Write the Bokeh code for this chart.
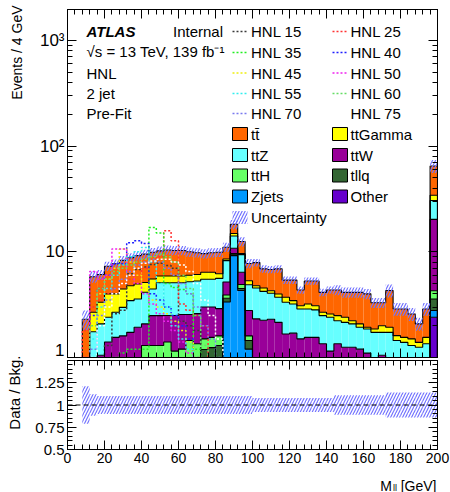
import numpy as np
from bokeh.plotting import figure
from bokeh.layouts import column, row
from bokeh.models import Range1d, LinearAxis, LogAxis, FixedTicker, Label, Span
from bokeh.embed import file_html
from bokeh.resources import INLINE

# ---------------- data ----------------
bin_edges = list(range(8, 204, 4))          # 8 ... 200 GeV, 48 bins of 4 GeV

other = [.02, .02, .03, .03, .03, .03, .03, .03, .03, .03, .03, .03, .03, .03, .03, .03, .04, .04, .05, .05, .10, .05, .05,
         .03, .03, .03, .03, .03, .03, .03, .03, .03, .03, .03, .03, .03, .03, .03, .03, .03, .03, .03, .03, .03, .03, .03, .03,
         2.4]
zjets = [.08, .10, .12, .15, .15, .17, .17, .17, .18, .18, .20, .20, .20, .25, .25, .30, .35, .40, .85, 3.3, 9.1, 4.25, 1.15,
         .35, .33, .30, .28, .27, .25, .23, .22, .21, .20, .19, .18, .17, .16, .15, .15, .15, .14, .13, .12, .12, .12, .11, .11,
         .38]
tllq = [.05, .08, .10, .12, .12, .15, .15, .15, .20, .20, .25, .25, .30, .30, .35, .50, .80, .80, .40, .28, .30, .20, .25,
        .20, .20, .20, .20, .19, .19, .18, .18, .17, .17, .16, .16, .15, .15, .14, .14, .13, .13, .12, .12, .11, .11, .11, .10,
        .80]
tth = [.15, .20, .30, .40, .50, .55, .60, .65, .89, .89, .82, .92, .62, .62, .82, .52, .31, .31, .30, .27, .10, .40, .15,
       .20, .19, .19, .19, .19, .18, .18, .17, .17, .16, .16, .15, .15, .14, .14, .13, .13, .12, .12, .11, .11, .10, .10, .10,
       .70]
ttw = [.20, .40, .50, .70, .75, .70, .78, .93, .78, 1.19, 1.19, 1.10, 1.35, 1.35, 1.10, 1.25, 1.50, 1.45, 1.30, 1.28, 1.20, 1.50, 1.18,
       1.54, 1.50, 1.58, 1.45, .99, 1.05, .88, .95, .97, .79, .61, .83, .75, .77, .74, .65, .51, .63, .50, .47, .43, .39, .35, .36,
       16.0]
ttz = [.40, .95, 1.03, 1.00, 1.13, 1.38, 1.72, 1.65, 2.06, 1.95, 2.61, 2.60, 2.60, 2.55, 2.65, 2.70, 2.50, 2.50, 2.70, 3.07, 3.30, 3.00, 2.10,
       2.22, 1.97, 1.75, 1.56, 1.66, 1.51, 1.38, 1.33, 1.27, 1.14, 1.25, .88, .90, .83, .73, .76, .78, .68, .83, .60, .59, .55, .55, .65,
       10.3]
ttgamma = [.10, .93, 1.25, 1.60, 1.32, 1.46, 1.32, 1.38, .99, 1.09, .80, .80, .80, .80, .80, .80, .90, .90, .60, .30, .80, .20, .45,
           .23, .32, .23, .28, .38, .24, .21, .33, .27, .19, .18, .26, .25, .15, .15, .07, .13, .27, .20, .16, .16, .20, .14, .20,
           3.7]
ttbar = [1.30, 3.12, 2.77, 3.30, 3.70, 3.86, 4.03, 4.24, 4.37, 4.37, 4.30, 4.50, 4.40, 4.40, 4.00, 3.70, 3.20, 3.40, 3.70, 2.50, 3.30, 2.90, 2.42,
         3.13, 2.36, 2.52, 2.91, 1.69, 1.95, 1.26, 2.09, 2.21, 1.45, 1.77, 1.86, 1.73, 1.90, 2.05, 2.07, 1.44, 1.30, 2.37, 1.27, 1.33, 1.08, .69, 1.33,
         30.5]
rel_unc = [.21, .12, .10, .10, .10, .10, .10, .10, .10, .10, .10, .10, .10, .10, .10, .10, .10, .10, .10, .10, .10, .10, .10,
           .08, .08, .08, .08, .08, .08, .08, .08, .08, .08, .08, .11, .11, .11, .11, .11, .11, .11,
           .14, .14, .14, .14, .14, .14, .14]

sig_edges = list(range(8, 104, 4))          # 8 ... 100 GeV
hnl15 = [0.4, 0.7, 1.0, 1.3, 2.6, 2.8, 6.2, 6.8, 7.2, 7.6, 7.8, 7.4, 7.0, 2.2, 2.0, 1.8, 0.8, 0.5, 0.3, 0.2, 0.1, 0.1, 0.1]
hnl25 = [1.8, 3.0, 3.5, 4.0, 4.5, 5.0, 5.5, 6.0, 7.0, 8.0, 9.0, 15.8, 12.7, 3.2, 2.8, 2.5, 2.0, 0.6, 0.3, 0.2, 0.1, 0.1, 0.1]
hnl35 = [0.4, 0.6, 0.8, 0.9, 1.0, 1.1, 1.2, 1.2, 1.2, 17.0, 15.1, 5.0, 4.6, 4.4, 4.0, 1.2, 0.6, 0.4, 0.2, 0.1, 0.1, 0.1, 0.1]
hnl40 = [0.8, 2.5, 4.5, 6.0, 7.7, 7.7, 12.2, 12.7, 12.0, 4.0, 3.5, 3.0, 2.5, 2.0, 1.5, 1.0, 0.5, 0.3, 0.2, 0.1, 0.1, 0.1, 0.1]
hnl45 = [0.6, 2.0, 4.0, 5.5, 7.0, 10.6, 8.0, 6.0, 4.5, 3.5, 3.0, 2.6, 2.2, 1.8, 1.4, 1.0, 0.6, 0.3, 0.2, 0.1, 0.1, 0.1, 0.1]
hnl50 = [1.0, 6.5, 5.5, 6.0, 10.6, 10.6, 6.5, 5.0, 4.0, 3.2, 2.6, 2.2, 1.8, 1.4, 1.1, 0.7, 0.4, 0.2, 0.1, 0.1, 0.1, 0.1, 0.1]
hnl55 = [0.5, 1.5, 3.0, 4.5, 6.0, 7.5, 9.0, 10.0, 11.0, 8.0, 5.0, 3.0, 2.0, 1.5, 1.2, 0.8, 0.4, 0.2, 0.1, 0.1, 0.1, 0.1, 0.1]
hnl60 = [0.5, 2.0, 4.5, 5.5, 6.5, 7.0, 7.5, 8.0, 8.5, 9.0, 9.5, 9.0, 8.0, 6.0, 4.5, 2.5, 1.3, 0.5, 0.2, 0.1, 0.1, 0.1, 0.1]
hnl70 = [0.4, 1.2, 2.5, 3.5, 4.5, 5.5, 6.5, 7.5, 8.0, 8.5, 8.0, 7.0, 6.0, 5.0, 4.0, 3.0, 2.0, 1.5, 1.0, 0.5, 0.2, 0.1, 0.1]
hnl75 = [0.4, 1.0, 2.0, 3.0, 4.0, 5.0, 6.0, 7.0, 7.8, 8.2, 8.5, 8.5, 8.0, 7.5, 6.5, 5.0, 3.5, 2.5, 1.5, 0.8, 0.4, 0.2, 0.1]

x_ticks = list(range(0, 201, 20))
x_minor = list(range(0, 201, 4))
y_ticks = [1, 10, 100, 1000]
y_tick_labels = {1: "1", 10: "10", 100: "10²", 1000: "10³"}
r_ticks = [0.5, 0.75, 1.0, 1.25, 1.5]
r_tick_labels = {0.5: "0.5", 0.75: "0.75", 1.0: "1", 1.25: "1.25", 1.5: " "}

# ---------------- style / layout (page pixels) ----------------
FONT = "Liberation Sans"
STRIP_W = 30                      # left strip holding the y titles
COL_W = 450 - STRIP_W
FX0, FX1 = 67, 437                # frame left / right
F1_TOP, F1_BOT = 9, 357           # main frame
F2_TOP, F2_BOT = 360, 449         # ratio frame
P1_H = 359
P2_H = 111
TOP_H = P1_H + P2_H
BOT_H = 492 - TOP_H
LB = FX0 - STRIP_W
RB = 450 - FX1
Y1_MAX = 1960.0
FLOOR = 1e-2

stack = [
    ("Other", other, "#6600cc"),
    ("Zjets", zjets, "#0099ff"),
    ("tllq", tllq, "#336633"),
    ("ttH", tth, "#66ff66"),
    ("ttW", ttw, "#990099"),
    ("ttZ", ttz, "#66ffff"),
    ("ttGamma", ttgamma, "#ffff00"),
    ("tt\u0304", ttbar, "#ff6600"),
]
signals = [
    ("HNL 15", hnl15, "#3a3a3a"), ("HNL 25", hnl25, "#ff3333"),
    ("HNL 35", hnl35, "#22ee22"), ("HNL 40", hnl40, "#1f1fff"),
    ("HNL 45", hnl45, "#eeee11"), ("HNL 50", hnl50, "#ee22ee"),
    ("HNL 55", hnl55, "#33eeee"), ("HNL 60", hnl60, "#66dd66"),
    ("HNL 70", hnl70, "#7a7aee"), ("HNL 75", hnl75, "#ffffff"),
]
HATCH = "#7272ff"


def gx(px):
    return (px - FX0) * 200.0 / (FX1 - FX0)


def gy(py):
    return 10 ** ((F1_BOT - py) / (F1_BOT - F1_TOP) * np.log10(Y1_MAX))


def style_axis(ax, ticker, show_labels, overrides=None, size="14px", standoff=3):
    ax.ticker = ticker
    ax.major_tick_in = 9
    ax.major_tick_out = 0
    ax.minor_tick_in = 5
    ax.minor_tick_out = 0
    ax.axis_line_color = "black"
    ax.major_tick_line_color = "black"
    ax.minor_tick_line_color = "black"
    ax.major_label_text_font = FONT
    ax.major_label_text_color = "black"
    if show_labels:
        ax.major_label_text_font_size = size
        ax.major_label_standoff = standoff
        if overrides:
            ax.major_label_overrides = overrides
    else:
        ax.major_label_text_font_size = "1px"
        ax.major_label_text_alpha = 0
        ax.major_label_standoff = 0


def step_xy(edges, vals):
    xs = [edges[0]] + list(edges[:-1]) + [edges[-1]]
    ys = [FLOOR] + list(vals) + [FLOOR]
    return xs, ys


def add_label(fig, x, y, text, size="15px", align="left", style="normal", angle=0.0, baseline="middle", color="black"):
    fig.add_layout(Label(x=x, y=y, text=text, text_font=FONT, text_font_size=size, text_align=align,
                         text_baseline=baseline, text_font_style=style, angle=angle, text_color=color))


def plain_fig(w, h, x0, x1, y0, y1):
    f = figure(width=w, height=h, x_range=Range1d(x0, x1), y_range=Range1d(y1, y0),
               x_axis_type=None, y_axis_type=None, output_backend="svg", toolbar_location=None,
               min_border=0, min_border_left=0, min_border_right=0, min_border_top=0, min_border_bottom=0)
    f.outline_line_color = None
    f.background_fill_color = "white"
    f.border_fill_color = "white"
    return f


# ---------------- main panel ----------------
p = figure(width=COL_W, height=P1_H, x_range=Range1d(0, 200), y_range=Range1d(1, Y1_MAX), y_axis_type="log",
           output_backend="svg", toolbar_location=None,
           min_border_left=LB, min_border_right=RB, min_border_top=F1_TOP, min_border_bottom=P1_H - F1_BOT)
p.xgrid.visible = False
p.ygrid.visible = False
p.outline_line_color = "black"
p.background_fill_color = "white"
p.border_fill_color = "white"

xt = lambda: FixedTicker(ticks=x_ticks, minor_ticks=x_minor)
yminor = [m * 10 ** d for d in range(0, 4) for m in range(2, 10)]
yt = lambda: FixedTicker(ticks=y_ticks, minor_ticks=yminor)
style_axis(p.xaxis[0], xt(), False)
style_axis(p.yaxis[0], yt(), True, y_tick_labels, size="17px", standoff=3)
ax_top = LinearAxis()
style_axis(ax_top, xt(), False)
p.add_layout(ax_top, "above")
ax_right = LogAxis()
style_axis(ax_right, yt(), False)
p.add_layout(ax_right, "right")

left = np.array(bin_edges[:-1], dtype=float)
right = np.array(bin_edges[1:], dtype=float)
cum = np.cumsum(np.array([s[1] for s in stack], dtype=float), axis=0)
for i, (name, vals, col) in enumerate(stack):
    bottom = cum[i - 1] if i > 0 else np.full(len(vals), FLOOR)
    p.quad(left=left, right=right, bottom=bottom, top=cum[i], fill_color=col, line_color=None)
for i in range(len(stack)):
    xs, ys = step_xy(bin_edges, cum[i])
    p.step(xs, ys, mode="after", line_color="black", line_width=1.1)

total = cum[-1]
unc = np.array(rel_unc)
p.quad(left=left, right=right, bottom=total * (1 - unc), top=total * (1 + unc), fill_alpha=0, line_color=None,
       hatch_pattern="/", hatch_color=HATCH, hatch_scale=6, hatch_weight=1.2)

for name, vals, col in signals:
    xs, ys = step_xy(sig_edges, vals)
    p.step(xs, ys, mode="after", line_color=col, line_width=1.5, line_dash="2 2")

# texts
add_label(p, gx(86), gy(30.5), "ATLAS", style="bold italic")
add_label(p, gx(172.5), gy(30.5), "Internal")
add_label(p, gx(86), gy(51), "\u221as = 13 TeV, 139 fb\u207b\u00b9")
add_label(p, gx(86), gy(72.5), "HNL")
add_label(p, gx(86), gy(93), "2 jet")
add_label(p, gx(86), gy(113), "Pre-Fit")

# legend
rows = [31, 52, 72.5, 93, 113, 133.5, 154.5, 175, 196, 217]
cols = [(232, 248, 250.5), (332, 348, 350)]
for j, (name, vals, col) in enumerate(signals):
    c0, c1, tx = cols[j % 2]
    yc = rows[j // 2]
    p.line([gx(c0), gx(c1)], [gy(yc), gy(yc)], line_color=col, line_width=1.5, line_dash="2 2")
    add_label(p, gx(tx), gy(yc), name)
leg_boxes = [("tt\u0304", 0, 5), ("ttGamma", 1, 5), ("ttZ", 0, 6), ("ttW", 1, 6),
             ("ttH", 0, 7), ("tllq", 1, 7), ("Zjets", 0, 8), ("Other", 1, 8)]
colmap = {s[0]: s[2] for s in stack}
for name, ci, ri in leg_boxes:
    c0, c1, tx = cols[ci]
    yc = rows[ri]
    p.quad(left=[gx(c0)], right=[gx(c1 - 1)], top=[gy(yc - 6.5)], bottom=[gy(yc + 6.5)],
           fill_color=colmap[name], line_color="black", line_width=1)
    add_label(p, gx(tx), gy(yc), name)
c0, c1, tx = cols[0]
p.quad(left=[gx(c0)], right=[gx(c1 - 1)], top=[gy(rows[9] - 6.5)], bottom=[gy(rows[9] + 6.5)],
       fill_alpha=0, line_color=None, hatch_pattern="/", hatch_color=HATCH, hatch_scale=6, hatch_weight=1.2)
add_label(p, gx(tx), gy(rows[9]), "Uncertainty")

# ---------------- ratio panel ----------------
r_minor = [round(0.5 + 0.05 * i, 2) for i in range(21)]
p2 = figure(width=COL_W, height=P2_H, x_range=p.x_range, y_range=Range1d(0.5, 1.5),
            output_backend="svg", toolbar_location=None,
            min_border_left=LB, min_border_right=RB, min_border_top=F2_TOP - P1_H,
            min_border_bottom=P1_H + P2_H - F2_BOT)
p2.xgrid.visible = False
p2.ygrid.visible = False
p2.outline_line_color = "black"
p2.background_fill_color = "white"
p2.border_fill_color = "white"
style_axis(p2.xaxis[0], xt(), True, size="14px", standoff=3)
style_axis(p2.yaxis[0], FixedTicker(ticks=r_ticks, minor_ticks=r_minor), True, r_tick_labels, size="15px", standoff=3)
ax_top2 = LinearAxis()
style_axis(ax_top2, xt(), False)
p2.add_layout(ax_top2, "above")
ax_right2 = LinearAxis()
style_axis(ax_right2, FixedTicker(ticks=r_ticks, minor_ticks=r_minor), False)
p2.add_layout(ax_right2, "right")

p2.quad(left=left, right=right, bottom=1 - unc, top=1 + unc, fill_alpha=0, line_color=None,
        hatch_pattern="/", hatch_color=HATCH, hatch_scale=6, hatch_weight=1.2)
p2.add_layout(Span(location=1.0, dimension="width", line_color="black", line_dash="5 3", line_width=1.2))

# ---------------- title strips (page-pixel coordinates) ----------------
strip_left = plain_fig(STRIP_W, TOP_H, 0, STRIP_W, 0, TOP_H)
add_label(strip_left, 16.5, 5, "Events / 4 GeV", size="14px", align="right", angle=np.pi / 2)
add_label(strip_left, 13.5, 355, "Data / Bkg.", size="15px", align="right", angle=np.pi / 2)

strip_bot = plain_fig(450, BOT_H, 0, 450, TOP_H, 492)
add_label(strip_bot, 436, 485, "[GeV]", size="14px", align="right")
add_label(strip_bot, 392.5, 487.5, "ll", size="9px", align="left")
add_label(strip_bot, 391.5, 485, "M", size="14px", align="right")

page = column(row(strip_left, column(p, p2)), strip_bot)
open("out.html", "w").write(file_html(page, INLINE))
